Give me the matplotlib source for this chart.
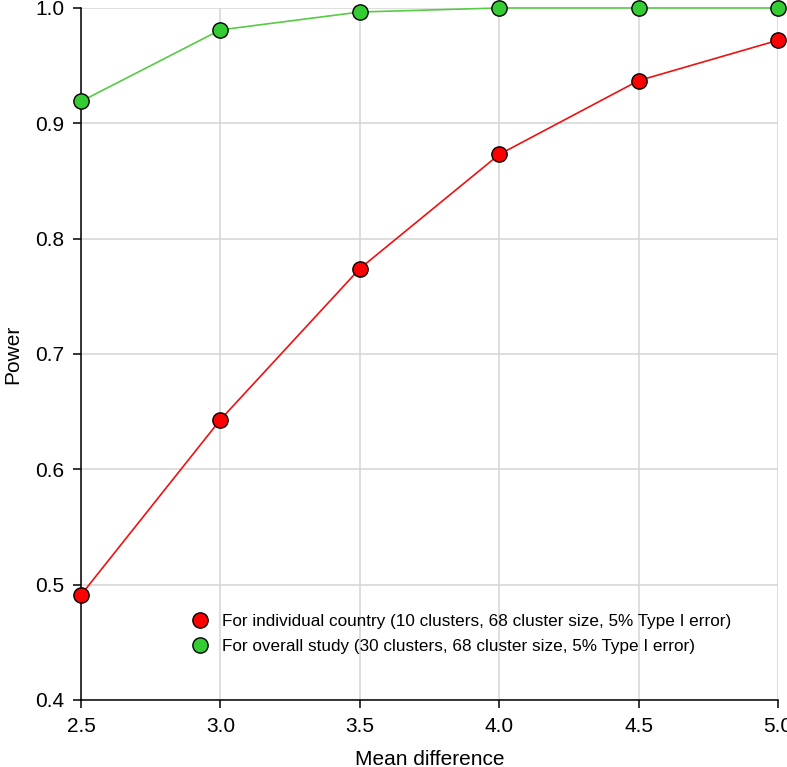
import numpy as np
import matplotlib.pyplot as plt

plt.rcParams['font.family'] = ['Liberation Sans', 'DejaVu Sans']

# data
mean_diff = [2.5, 3.0, 3.5, 4.0, 4.5, 5.0]
power_country = [0.491, 0.643, 0.774, 0.873, 0.937, 0.972]
power_overall = [0.919, 0.981, 0.9965, 1.0, 1.0, 1.0]
label_country = 'For individual country (10 clusters, 68 cluster size, 5% Type I error)'
label_overall = 'For overall study (30 clusters, 68 cluster size, 5% Type I error)'

fig = plt.figure(figsize=(7.87, 7.67), dpi=100)
ax = fig.add_axes([0.1029, 0.0874, 0.8857, 0.9022])

ax.plot(mean_diff, power_country, color='#ee1111', lw=1.2, marker='o', ms=11,
        mfc='#ff0000', mec='black', mew=1.0, clip_on=False, zorder=3, label=label_country)
ax.plot(mean_diff, power_overall, color='#55cc44', lw=1.2, marker='o', ms=11,
        mfc='#33cc33', mec='black', mew=1.0, clip_on=False, zorder=3, label=label_overall)

ax.set_xlim(2.5, 5.0)
ax.set_ylim(0.4, 1.0)
ax.set_xticks(np.arange(2.5, 5.01, 0.5))
ax.set_yticks(np.arange(0.4, 1.01, 0.1))
ax.set_xticklabels(['%.1f' % v for v in np.arange(2.5, 5.01, 0.5)])
ax.set_yticklabels(['%.1f' % v for v in np.arange(0.4, 1.01, 0.1)])

ax.grid(True, color='#d4d4d4', lw=1.1)
ax.set_axisbelow(True)
for s in ['top', 'right']:
    ax.spines[s].set_visible(False)
for s in ['left', 'bottom']:
    ax.spines[s].set_linewidth(1.1)
ax.tick_params(direction='out', length=6, width=1.1, labelsize=15, pad=6)

ax.set_xlabel('Mean difference', fontsize=15, labelpad=10)
ax.set_ylabel('Power', fontsize=15, labelpad=9)

ax.legend(loc='center left', bbox_to_anchor=(0.149, 0.095), frameon=False,
          handlelength=0, numpoints=1, fontsize=12.3, handletextpad=1.3,
          labelspacing=0.6)

plt.savefig('out.png', dpi=100)
